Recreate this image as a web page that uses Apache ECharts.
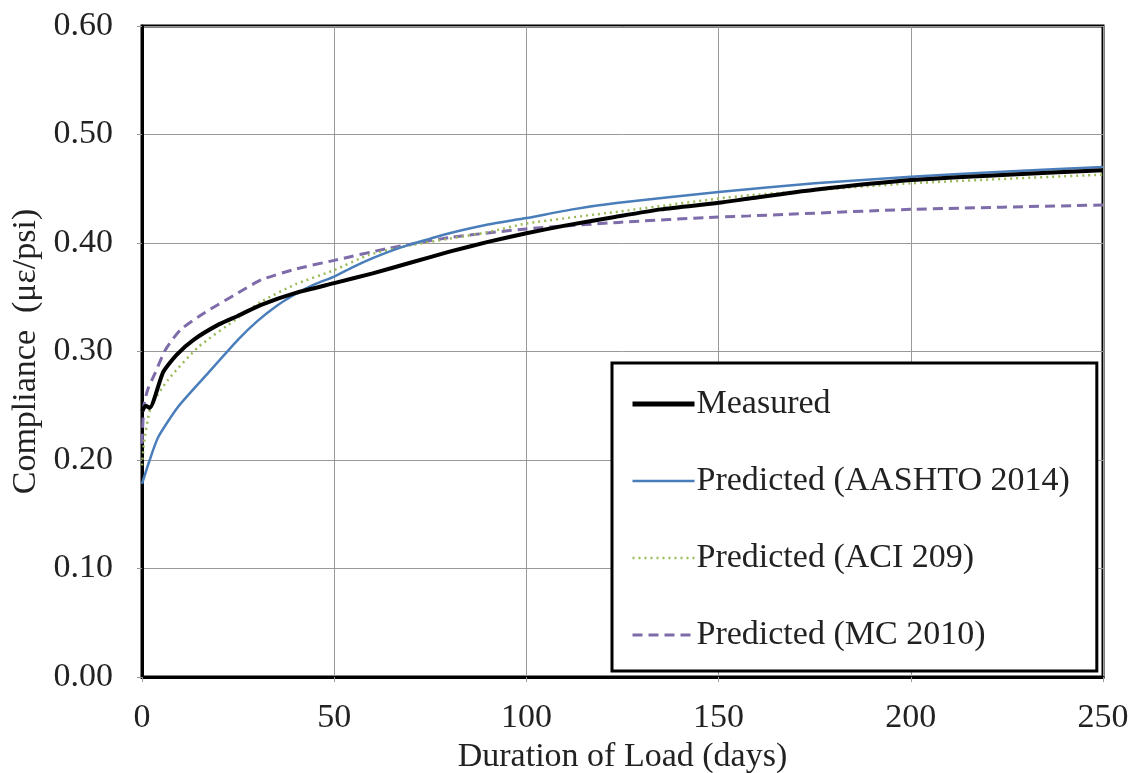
<!DOCTYPE html>
<html>
<head>
<meta charset="utf-8">
<title>Compliance vs Duration of Load</title>
<script src="https://cdn.jsdelivr.net/npm/echarts@6/dist/echarts.min.js"></script>
<style>
  html, body { margin: 0; padding: 0; background: #fff; }
  #chart { width: 1135px; height: 773px; }
</style>
</head>
<body>
<div id="chart"></div>
<script>
// Creep compliance (με/psi) against duration of load (days): [days, compliance]
const measured = [
  [0, 0.245], [1, 0.250], [2, 0.248], [5.5, 0.281], [9, 0.297], [13.5, 0.311],
  [20, 0.325], [25, 0.333], [31, 0.343], [40, 0.354], [50, 0.363], [60, 0.372],
  [70, 0.382], [80, 0.392], [90, 0.401], [100, 0.409], [110, 0.416], [123, 0.424],
  [135, 0.431], [150, 0.437], [158, 0.441], [175, 0.449], [200, 0.458], [225, 0.463],
  [250, 0.467]
];
const aashto2014 = [
  [0, 0.178], [2, 0.200], [4.2, 0.221], [9.4, 0.249], [16.4, 0.277], [25, 0.311],
  [30, 0.328], [35, 0.342], [40, 0.353], [45, 0.362], [50, 0.369], [55, 0.378],
  [60, 0.386], [65, 0.393], [70, 0.399], [75, 0.404], [80, 0.409], [90, 0.417],
  [100, 0.423], [112, 0.431], [124, 0.437], [150, 0.447], [175, 0.455], [200, 0.461],
  [225, 0.466], [250, 0.470]
];
const aci209 = [
  [0, 0.195], [0.5, 0.215], [2.3, 0.249], [6.8, 0.274], [14.6, 0.304], [25, 0.331],
  [31, 0.346], [40, 0.362], [50, 0.375], [59, 0.389], [70, 0.398], [80, 0.404],
  [90, 0.410], [100, 0.418], [124, 0.429], [150, 0.441], [158, 0.444], [200, 0.455],
  [250, 0.463]
];
const mc2010 = [
  [0, 0.215], [0.5, 0.250], [1.5, 0.265], [3.4, 0.280], [6, 0.301], [10, 0.320],
  [16.4, 0.336], [25, 0.354], [31, 0.366], [40, 0.376], [50, 0.384], [64, 0.395],
  [80, 0.405], [100, 0.413], [124, 0.419], [150, 0.424], [158, 0.425], [200, 0.431],
  [250, 0.435]
];

const seriesNames = [
  'Measured',
  'Predicted (AASHTO 2014)',
  'Predicted (ACI 209)',
  'Predicted (MC 2010)'
];

const xTicks = { min: 0, max: 250, interval: 50 };
const yTicks = { min: 0, max: 0.6, interval: 0.1 };

const FONT = '"Liberation Serif", "Times New Roman", serif';
const FS = 34;
const chart = echarts.init(document.getElementById('chart'), null, { renderer: 'canvas' });

const styles = [
  { color: '#000000', width: 4, type: 'solid', legendWidth: 5, z: 5 },
  { color: '#4A7EBB', width: 2.5, type: 'solid', legendWidth: 2.5, z: 4 },
  { color: '#9BBB59', width: 2.5, type: [2, 4], legendWidth: 2.5, z: 3 },
  { color: '#7E6BAA', width: 3, type: [10, 6], legendWidth: 3, z: 2 }
];
const dataSets = [measured, aashto2014, aci209, mc2010];

const series = seriesNames.map((name, i) => ({
  name: name,
  type: 'line',
  data: dataSets[i],
  showSymbol: false,
  symbol: 'circle',
  smooth: 0.2,
  z: styles[i].z,
  lineStyle: { color: styles[i].color, width: styles[i].width, type: styles[i].type },
  itemStyle: { color: styles[i].color }
}));

const legendData = seriesNames.map((name, i) => ({
  name: name,
  itemStyle: { opacity: 0 },
  lineStyle: { color: styles[i].color, width: styles[i].legendWidth, type: styles[i].type, opacity: 1 }
}));

chart.setOption({
  backgroundColor: '#fff',
  animation: false,
  grid: {
    left: 142, right: 32, top: 26, bottom: 96,
    outerBoundsMode: 'none',
    show: true, borderColor: '#000', borderWidth: 3
  },
  xAxis: {
    type: 'value',
    min: xTicks.min, max: xTicks.max, interval: xTicks.interval,
    name: 'Duration of Load (days)',
    nameLocation: 'middle',
    nameGap: 58,
    nameTextStyle: { fontFamily: FONT, fontSize: FS, color: '#222' },
    axisLine: { show: true, lineStyle: { color: '#000', width: 3 } },
    axisTick: { show: true, length: 5, lineStyle: { color: '#999' } },
    axisLabel: { fontFamily: FONT, fontSize: FS, color: '#222', margin: 24 },
    splitLine: { show: true, lineStyle: { color: '#999', width: 1 } }
  },
  yAxis: {
    type: 'value',
    min: yTicks.min, max: yTicks.max, interval: yTicks.interval,
    name: 'Compliance  (με/psi)',
    nameLocation: 'middle',
    nameGap: 90,
    nameTextStyle: { fontFamily: FONT, fontSize: FS, color: '#222' },
    axisLine: { show: true, lineStyle: { color: '#000', width: 3 } },
    axisTick: { show: true, length: 5, lineStyle: { color: '#999' } },
    axisLabel: {
      fontFamily: FONT, fontSize: FS, color: '#222', margin: 29,
      formatter: v => v.toFixed(2)
    },
    splitLine: { show: true, lineStyle: { color: '#999', width: 1 } }
  },
  legend: {
    data: legendData,
    orient: 'vertical',
    left: 612,
    top: 363,
    padding: [21, 27, 16, 18],
    itemWidth: 62,
    itemHeight: 20,
    itemGap: 37,
    backgroundColor: '#fff',
    borderColor: '#000',
    borderWidth: 3,
    textStyle: { fontFamily: FONT, fontSize: FS, color: '#222', lineHeight: 40, padding: [0, 0, 0, -3] }
  },
  series: series
});
</script>
</body>
</html>
